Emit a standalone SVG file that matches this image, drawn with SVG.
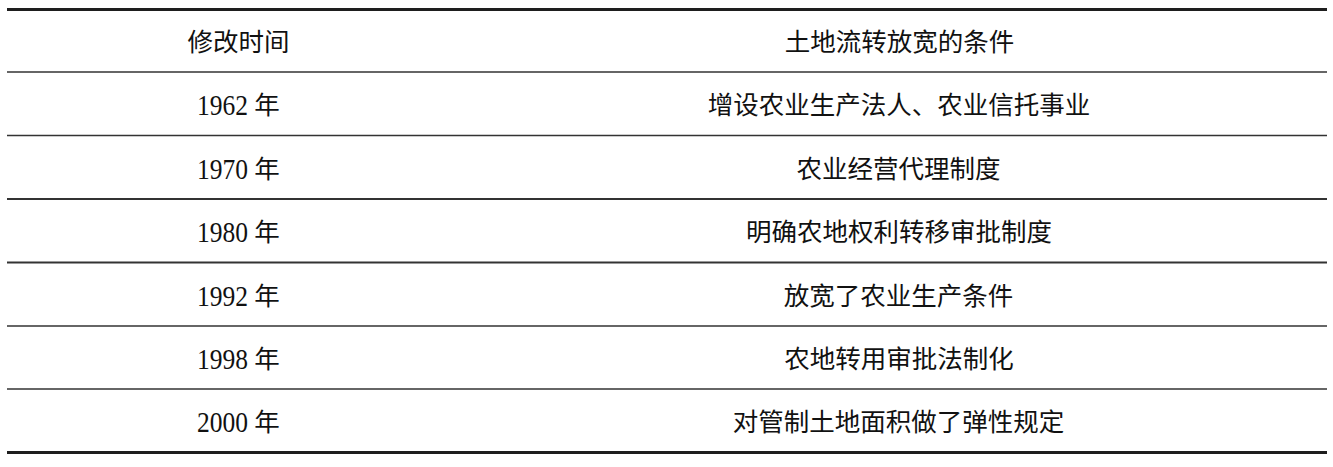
<svg xmlns="http://www.w3.org/2000/svg" width="1333" height="467" viewBox="0 0 1333 467">
<style>
.cj{font-family:"Noto Sans CJK SC","Noto Sans",sans-serif;font-size:25.5px;fill:#111;text-anchor:middle}
.num{font-family:"Liberation Serif","Times New Roman",serif;font-size:30px;fill:#111}
.thick{stroke:#1e1e1e;stroke-width:3.2}
.thin{stroke:#333;stroke-width:1.7}
</style>
<rect width="1333" height="467" fill="#fff"/>
<g id="rules">
<line class="thick" x1="7" y1="9.5" x2="1327" y2="9.5"/>
<line class="thin" x1="7" y1="72" x2="1327" y2="72"/>
<line class="thin" x1="7" y1="135.5" x2="1327" y2="135.5"/>
<line class="thin" x1="7" y1="199" x2="1327" y2="199" style="stroke-width:2.1"/>
<line class="thin" x1="7" y1="262.5" x2="1327" y2="262.5" style="stroke-width:2.1"/>
<line class="thin" x1="7" y1="326" x2="1327" y2="326"/>
<line class="thin" x1="7" y1="389" x2="1327" y2="389"/>
<line class="thick" x1="7" y1="452.5" x2="1327" y2="452.5"/>
</g>
<g id="header">
<text class="cj" x="238.5" y="50.5">修改时间</text>
<text class="cj" x="899.5" y="50.5">土地流转放宽的条件</text>
</g>
<g id="row1962">
<text class="num" transform="translate(197,115) scale(0.85,1)">1962</text>
<text class="cj" x="267" y="114">年</text>
<text class="cj" x="899" y="114">增设农业生产法人、农业信托事业</text>
</g>
<g id="row1970">
<text class="num" transform="translate(197,178.5) scale(0.85,1)">1970</text>
<text class="cj" x="267" y="177.5">年</text>
<text class="cj" x="898.5" y="177.5">农业经营代理制度</text>
</g>
<g id="row1980">
<text class="num" transform="translate(197,242) scale(0.85,1)">1980</text>
<text class="cj" x="267" y="241">年</text>
<text class="cj" x="899" y="241">明确农地权利转移审批制度</text>
</g>
<g id="row1992">
<text class="num" transform="translate(197,305.5) scale(0.85,1)">1992</text>
<text class="cj" x="267" y="304.5">年</text>
<text class="cj" x="898.5" y="304.5">放宽了农业生产条件</text>
</g>
<g id="row1998">
<text class="num" transform="translate(197,368.5) scale(0.85,1)">1998</text>
<text class="cj" x="267" y="367.5">年</text>
<text class="cj" x="899" y="367.5">农地转用审批法制化</text>
</g>
<g id="row2000">
<text class="num" transform="translate(197,432) scale(0.85,1)">2000</text>
<text class="cj" x="267" y="431">年</text>
<text class="cj" x="898.5" y="431">对管制土地面积做了弹性规定</text>
</g>
</svg>
